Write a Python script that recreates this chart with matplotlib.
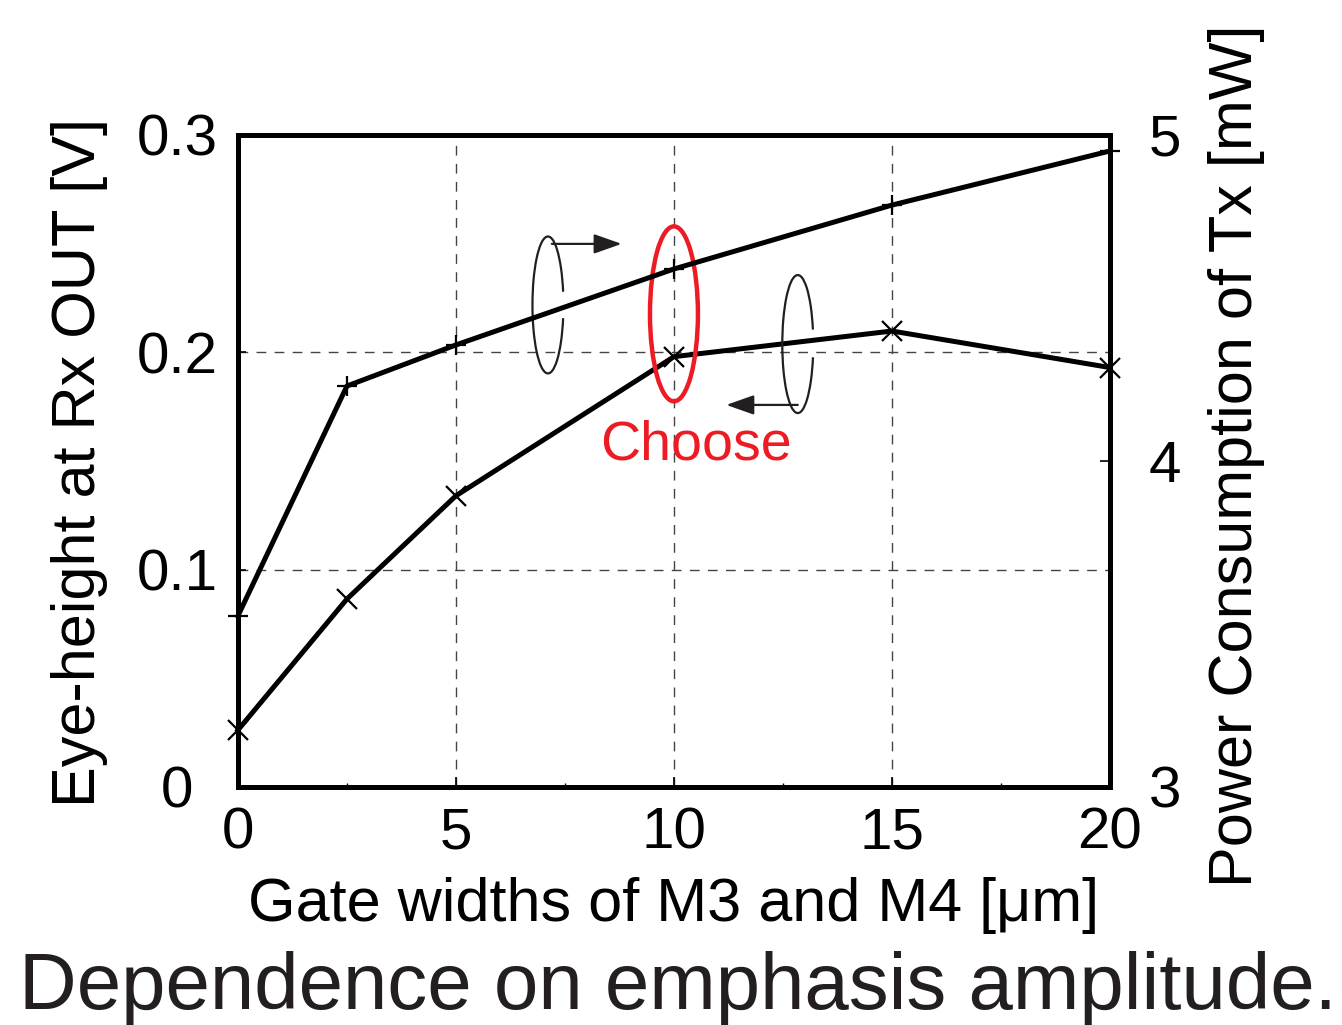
import matplotlib
matplotlib.use("Agg")
import matplotlib.pyplot as plt
from matplotlib.patches import Ellipse, Arc

plt.rcParams['font.family'] = ['Liberation Sans', 'DejaVu Sans']

# gate width sweep [um]
gate_width = [0, 2.5, 5, 10, 15, 20]
# eye height at Rx OUT [V] (left axis)
eye_height = [0.0262, 0.0865, 0.134, 0.198, 0.2098, 0.193]
# Tx power consumption [mW] (right axis)
power_tx = [3.525, 4.23, 4.356, 4.589, 4.785, 4.951]

x_ticks = [0, 5, 10, 15, 20]
left_ticks = [0, 0.1, 0.2, 0.3]
left_labels = ['0', '0.1', '0.2', '0.3']
right_ticks = [3, 4, 5]

ink = '#231f20'
red = '#ed1c24'

fig = plt.figure(figsize=(13.42, 10.25), dpi=100)
ax = fig.add_axes([0.1773, 0.2322, 0.6498, 0.6361])
ax2 = ax.twinx()

ax.set_xlim(0, 20)
ax.set_ylim(0, 0.3)
ax2.set_ylim(3, 5)

ax.plot(gate_width, eye_height, color='black', lw=3.6, marker='x',
        ms=14, mew=1.6, zorder=5, clip_on=False)
ax2.plot(gate_width, power_tx, color='black', lw=3.6, marker='+',
         ms=14, mew=1.6, zorder=5, clip_on=False)

# dashed grid
for gx in [5, 10, 15]:
    ax.axvline(gx, color='#444444', lw=1.0, ls=(0, (7, 6)), zorder=1)
for gy in [0.1, 0.2]:
    ax.axhline(gy, color='#444444', lw=1.0, ls=(0, (7, 6)), zorder=1)

ax.set_xticks(x_ticks)
ax.set_xticks([2.5, 7.5, 12.5, 17.5], minor=True)
ax.set_yticks(left_ticks)
ax.set_yticklabels(left_labels)
ax2.set_yticks(right_ticks)

ax.tick_params(axis='x', direction='in', length=7, width=1.2, pad=14,
               labelsize=42, top=False)
ax.tick_params(axis='x', which='minor', direction='in', length=3, width=1)
ax.tick_params(axis='y', direction='in', length=6, width=1.2, pad=44,
               labelsize=42)
for lab in ax.get_yticklabels():
    lab.set_ha('center')
ax2.tick_params(axis='y', direction='in', length=7, width=1.2, pad=28,
                labelsize=42)

for a in (ax, ax2):
    for s in a.spines.values():
        s.set_linewidth(3.6)

# axis labels
fig.text(0.0596, 0.549, 'Eye-height at Rx OUT [V]', rotation=90,
         ha='center', va='center', fontsize=44)
fig.text(0.9217, 0.555, 'Power Consumption of Tx [mW]', rotation=90,
         ha='center', va='center', fontsize=44)
fig.text(0.502, 0.117, 'Gate widths of M3 and M4 [\u03bcm]',
         ha='center', va='center', fontsize=44)
fig.text(0.505, 0.036, 'Dependence on emphasis amplitude.',
         ha='center', va='center', fontsize=57.5, color=ink)

# axis indicators: open ellipse + arrow pointing at the axis
arrow_style = '-|>,head_length=1.7,head_width=0.6'
ax.add_patch(Arc((7.11, 0.2218), 0.71, 0.063, theta1=1.0, theta2=359.0,
                 color=ink, lw=1.6, zorder=6))
ax.annotate('', xy=(8.8, 0.2499), xytext=(7.2, 0.2499),
            arrowprops=dict(arrowstyle=arrow_style,
                            color=ink, lw=1.6, shrinkA=0, shrinkB=0))
ax.add_patch(Arc((12.84, 0.2038), 0.71, 0.0635, theta1=1.1, theta2=359.0,
                 color=ink, lw=1.6, zorder=6))
ax.annotate('', xy=(11.2, 0.1758), xytext=(12.84, 0.1758),
            arrowprops=dict(arrowstyle=arrow_style,
                            color=ink, lw=1.6, shrinkA=0, shrinkB=0))

# chosen design point
ax.add_patch(Ellipse((10.0, 0.2177), 1.1, 0.0805, fill=False,
                     edgecolor=red, lw=3.2, zorder=7))
ax.text(10.5, 0.157, 'Choose', color=red, fontsize=40,
        ha='center', va='center', zorder=7)

fig.savefig('out.png', dpi=100)
